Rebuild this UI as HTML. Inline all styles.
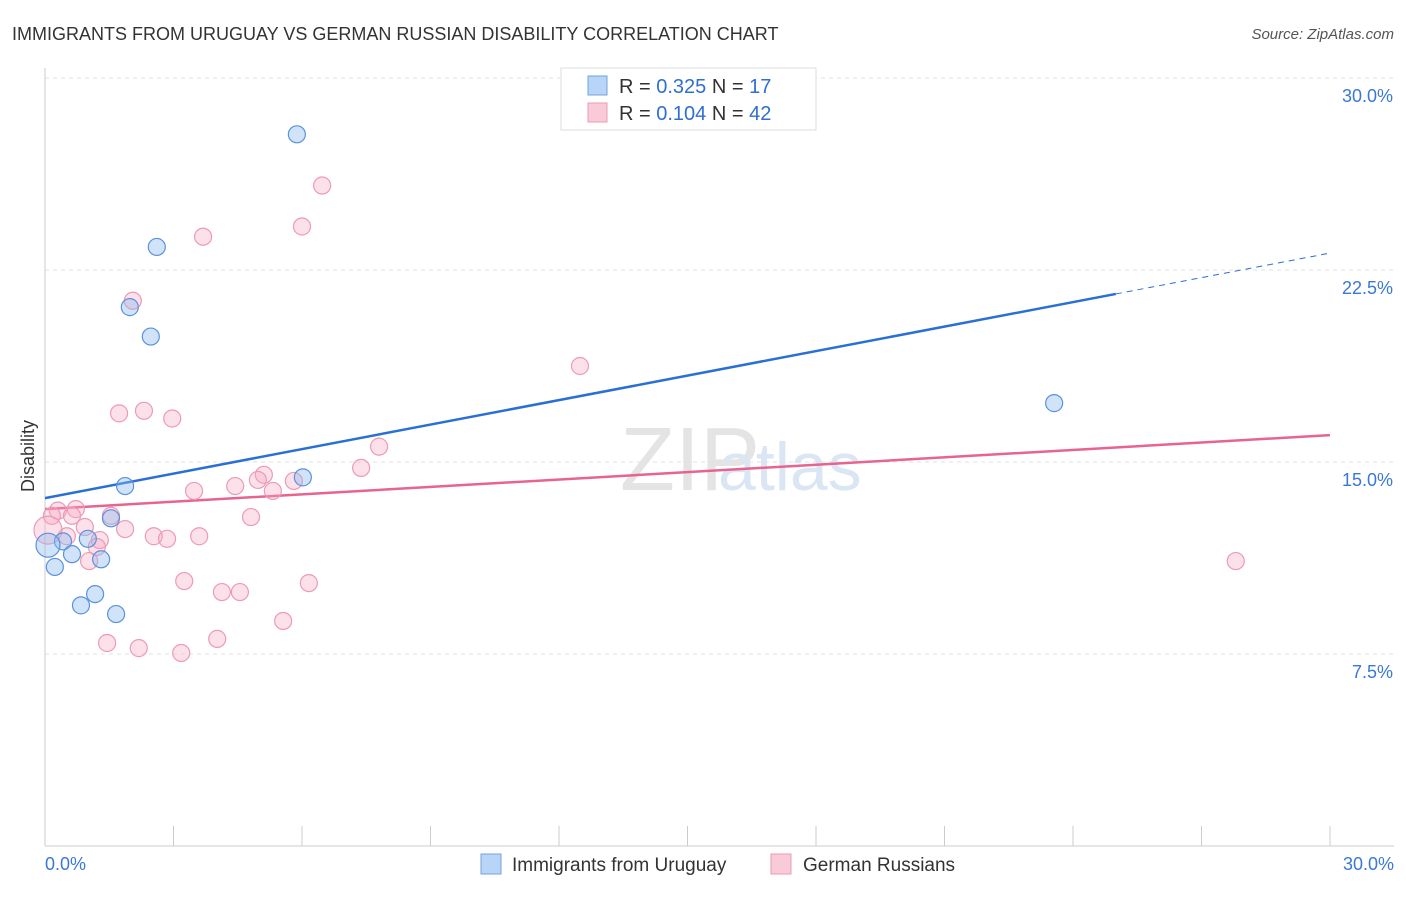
<!DOCTYPE html>
<html><head><meta charset="utf-8"><style>
body{margin:0;background:#fff;font-family:"Liberation Sans",sans-serif;}
svg text{font-family:"Liberation Sans",sans-serif;}
</style></head><body>
<svg id="c" width="1406" height="892" xmlns="http://www.w3.org/2000/svg">
<text x="12" y="40" font-size="18" fill="#333">IMMIGRANTS FROM URUGUAY VS GERMAN RUSSIAN DISABILITY CORRELATION CHART</text>
<text x="1394" y="39" font-size="15" fill="#555" font-style="italic" text-anchor="end">Source: ZipAtlas.com</text>
<text x="620" y="490" font-size="90" fill="#e4e4e4" font-family="Liberation Serif">ZIP</text>
<text x="718" y="490" font-size="68" fill="#dbe6f5">atlas</text>
<g id="grid"></g><g id="axes"></g><g id="lines"></g><g id="pts"></g>
<g>
<rect x="561" y="68" width="255" height="62" fill="#fff" stroke="#ddd"/>
<rect x="588" y="76" width="19" height="19" fill="#b8d4f6" stroke="#6fa3e0"/>
<rect x="588" y="103" width="19" height="19" fill="#f9cad8" stroke="#ee9ab4"/>
<text x="619" y="93" font-size="20" fill="#333">R = <tspan fill="#2f6fd0">0.325</tspan>   N = <tspan fill="#2f6fd0"> 17</tspan></text>
<text x="619" y="120" font-size="20" fill="#333">R = <tspan fill="#2f6fd0">0.104</tspan>   N = <tspan fill="#2f6fd0">42</tspan></text>
</g>
<g>
<rect x="481" y="854" width="20" height="20" fill="#b8d4f6" stroke="#6fa3e0"/>
<text x="512" y="871" font-size="19" fill="#333">Immigrants from Uruguay</text>
<rect x="771" y="854" width="20" height="20" fill="#f9cad8" stroke="#ee9ab4"/>
<text x="803" y="871" font-size="19" fill="#333">German Russians</text>
</g>
<text x="34" y="456" font-size="18" fill="#333" transform="rotate(-90 34 456)" text-anchor="middle">Disability</text>
</svg>
<script>
const blueX=[5.88,2.61,1.98,2.47,23.56,1.87,6.02,1.54,1.0,0.42,0.63,1.31,0.23,1.17,0.84,1.66,0.07];
const blueY=[27.8,23.4,21.05,19.9,17.3,14.06,14.4,12.8,12.0,11.9,11.4,11.2,10.9,9.84,9.4,9.06,11.75];
const pinkX=[6.47,6.0,3.69,2.05,12.49,1.73,2.31,2.97,7.8,7.38,5.11,4.97,5.81,4.44,3.48,5.32,0.3,0.72,0.63,1.54,0.16,0.93,1.87,4.81,0.51,2.54,2.85,3.6,1.28,1.21,1.03,27.8,3.25,6.16,4.13,4.55,5.56,1.45,4.02,2.19,3.18,0.07];
const pinkY=[25.8,24.2,23.8,21.3,18.75,16.9,17.0,16.7,15.6,14.77,14.5,14.3,14.26,14.06,13.87,13.87,13.1,13.16,12.9,12.9,12.9,12.46,12.38,12.85,12.1,12.1,12.0,12.1,11.95,11.68,11.13,11.13,10.35,10.27,9.92,9.92,8.79,7.93,8.09,7.73,7.54,12.34];
const blueTrend=[13.59,23.16];
const pinkTrend=[13.16,16.05];
const yTicks=[7.5,15,22.5,30];
const NS="http://www.w3.org/2000/svg";
const X=v=>45+v*(1330-45)/30, Y=v=>846-v*25.6;
function mk(t,a,p){const e=document.createElementNS(NS,t);for(const k in a)e.setAttribute(k,a[k]);document.getElementById(p).appendChild(e);return e;}
yTicks.forEach(t=>{
 const l=mk('line',{x1:45,x2:1394,y1:Y(t),y2:Y(t),stroke:'#e2e2e2','stroke-dasharray':'4,4'},'grid');
 
 
 const tx=mk('text',{x:1393,y:Y(t)+24,'font-size':18,fill:'#3a78d8','text-anchor':'end'},'grid');
 tx.textContent=t.toFixed(1)+'%';
 
 
});
mk('line',{x1:45,x2:45,y1:68,y2:846,stroke:'#ccc'},'axes');
mk('line',{x1:45,x2:1394,y1:846,y2:846,stroke:'#ccc'},'axes');
for(let i=1;i<=10;i++){mk('line',{x1:45+i*128.5,x2:45+i*128.5,y1:826,y2:846,stroke:'#ccc'},'axes');}
let t0=mk('text',{x:45,y:870,'font-size':18,fill:'#3a78d8'},'axes');t0.textContent='0.0%';


let t1=mk('text',{x:1394,y:870,'font-size':18,fill:'#3a78d8','text-anchor':'end'},'axes');t1.textContent='30.0%';


const yb=x=>blueTrend[0]+(blueTrend[1]-blueTrend[0])*x/30;
let bl=mk('line',{x1:X(0),y1:Y(yb(0)),x2:X(25),y2:Y(yb(25)),stroke:'#2a6fd6','stroke-width':2.5},'lines');


let bd=mk('line',{x1:X(25),y1:Y(yb(25)),x2:X(30),y2:Y(yb(30)),stroke:'#2a6fd6','stroke-width':1,'stroke-dasharray':'6,5'},'lines');


let pl=mk('line',{x1:X(0),y1:Y(pinkTrend[0]),x2:X(30),y2:Y(pinkTrend[1]),stroke:'#e8638e','stroke-width':2.5},'lines');


pinkX.forEach((x,i)=>{const c=mk('circle',{cx:X(x),cy:Y(pinkY[i]),r:i==41?14:8.5,fill:'rgba(246,170,195,0.35)',stroke:'#ee9ab4','stroke-width':1.2},'pts');

});
blueX.forEach((x,i)=>{const c=mk('circle',{cx:X(x),cy:Y(blueY[i]),r:i==16?12:8.5,fill:'rgba(140,185,240,0.4)',stroke:'#5b92dc','stroke-width':1.2},'pts');

});
</script>
</body></html>
